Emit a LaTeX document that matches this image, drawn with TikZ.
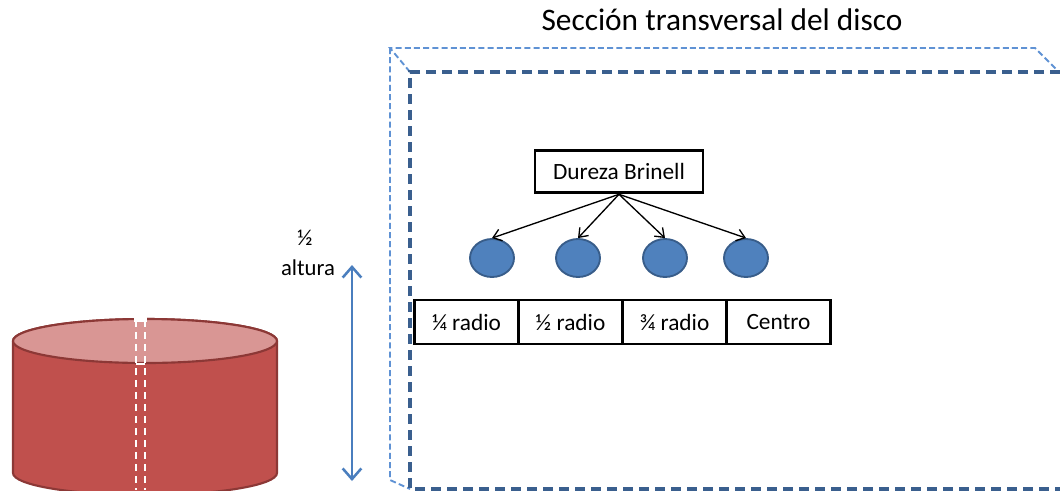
\documentclass[tikz,border=0pt]{standalone}
\usepackage{fontspec}
\setmainfont{Carlito}
\usetikzlibrary{arrows.meta,shapes.geometric}
\definecolor{backblue}{RGB}{95,146,212}
\definecolor{frontblue}{RGB}{58,95,142}
\definecolor{dotfill}{RGB}{79,129,189}
\definecolor{dotedge}{RGB}{56,93,138}
\definecolor{hgtblue}{RGB}{74,126,190}
\definecolor{diskbody}{RGB}{192,80,77}
\definecolor{disktop}{RGB}{217,150,148}
\definecolor{diskedge}{RGB}{140,56,54}
\begin{document}
\begin{tikzpicture}[x=0.75pt,y=-0.75pt,
  titletext/.style={font=\fontsize{23.5}{26}\selectfont},
  lbl/.style={font=\fontsize{17}{20}\selectfont},
  cellbox/.style={draw=black, line width=2.2pt, fill=white, minimum width=78pt,
    minimum height=33pt, inner sep=0pt, font=\fontsize{17.5}{20}\selectfont},
  headbox/.style={cellbox, minimum width=126pt, minimum height=32pt},
  dot/.style={ellipse, draw=dotedge, line width=1.4pt, fill=dotfill,
    minimum width=33pt, minimum height=28.5pt, inner sep=0pt},
  link/.style={line width=1pt, -{Straight Barb[length=6pt,width=9pt]}},
  backface/.style={draw=backblue, line width=1.4pt, dash pattern=on 4.5pt off 2.4pt},
  frontface/.style={draw=frontblue, line width=2.6pt, dash pattern=on 7.5pt off 4.5pt},
  hgt/.style={draw=hgtblue, line width=1.9pt,
    {Straight Barb[length=8pt,width=14pt]}-{Straight Barb[length=8pt,width=14pt]}},
  core/.style={draw=white, line width=2pt, dash pattern=on 5.5pt off 3.5pt},
]
\useasboundingbox (0,0) rectangle (1060,490);
\clip (0,0) rectangle (1060,490);

% title
\node[titletext] (title) at (722,20) {Sección transversal del disco};

% cross-section frame: back edges (light) and front edges (dark)
\draw[backface] (410,72) -- (390,48) -- (1035,48) -- (1060,73);
\draw[backface] (390,48) -- (390,480) -- (410,489);
\draw[frontface] (1060,72) -- (410,72) -- (410,489) -- (1060,489);

% hardness measurement tree
\node[headbox] (brinell) at (619,171.5) {Dureza Brinell};
\node[dot] (p1) at (492,258) {};
\node[dot] (p2) at (578,258) {};
\node[dot] (p3) at (665,258) {};
\node[dot] (p4) at (746,258) {};
\foreach \p in {p1,p2,p3,p4}
  \draw[link] (brinell.south) -- (\p.north);

\node[cellbox] (r1) at (466.5,322) {¼ radio};
\node[cellbox] (r2) at (570.5,322) {½ radio};
\node[cellbox] (r3) at (674.5,322) {¾ radio};
\node[cellbox] (r4) at (778.5,322) {Centro};

% half height marker
\node[lbl] (half) at (305,238) {½};
\node[lbl] (alt) at (308,268) {altura};
\coordinate (htop) at (352,265);
\coordinate (hbot) at (352,481);
\draw[hgt] (htop) -- (hbot);

% disc
\fill[diskbody, draw=diskedge, line width=1.6pt]
  (13,341) -- (13,473) arc[start angle=180, end angle=0, x radius=132, y radius=22]
  -- (277,341) arc[start angle=360, end angle=180, x radius=132, y radius=22] -- cycle;
\draw[fill=disktop, draw=diskedge, line width=1.6pt] (145,341) ellipse[x radius=132, y radius=22];

% sampling core through the centre
\fill[white] (134,316) rectangle (147,322);
\draw[core] (136,320) -- (136,490);
\draw[core] (145,320) -- (145,490);
\draw[white, line width=2pt] (136,364) -- (145,364);
\end{tikzpicture}
\end{document}
